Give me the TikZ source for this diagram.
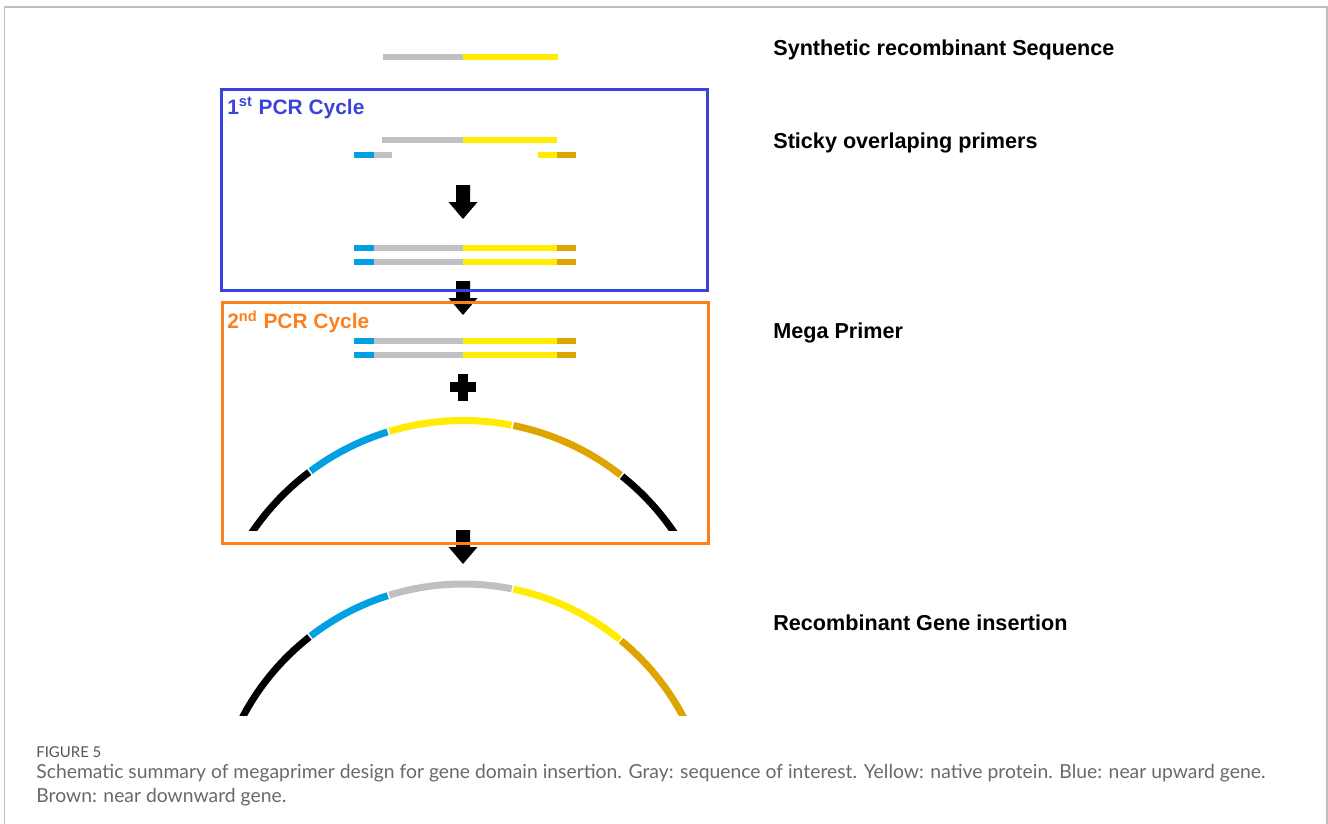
\documentclass[tikz,border=0pt]{standalone}
\usepackage{fontspec}
\setmainfont{Liberation Sans}
\newfontfamily\capfont{Lato}
\usetikzlibrary{arrows.meta}

\definecolor{seqgray}{RGB}{190,192,196}
\definecolor{seqyellow}{RGB}{255,236,0}
\definecolor{seqblue}{RGB}{0,160,227}
\definecolor{seqbrown}{RGB}{222,164,0}
\definecolor{cycleblue}{RGB}{58,68,220}
\definecolor{cycleorange}{RGB}{252,128,30}
\definecolor{captext}{RGB}{105,105,105}

% one full mega primer strand at height #1
\newcommand{\megabar}[1]{%
  \draw[seq, seqblue]   (354,#1) -- (374,#1);
  \draw[seq, seqgray]   (374,#1) -- (463,#1);
  \draw[seq, seqyellow] (463,#1) -- (557,#1);
  \draw[seq, seqbrown]  (557,#1) -- (576,#1);
}

\tikzset{
  blockdown/.pic={\fill (-7,17) -- (7,17) -- (7,0) -- (14.5,0) -- (0,-17) -- (-14.5,0) -- (-7,0) -- cycle;},
  plussign/.pic={\fill (-13,-5) rectangle (13,5); \fill (-5,-13.5) rectangle (5,13.5);}
}

\begin{document}
\begin{tikzpicture}[x=0.02cm, y=0.02cm,
  seq/.style={line width=0.12cm},
  dnaarc/.style={line width=0.14cm},
  cyclebox/.style={line width=0.06cm},
  stagelabel/.style={anchor=west, inner sep=0pt, font=\fontsize{12.3}{14}\selectfont\bfseries},
  cyclelabel/.style={anchor=west, inner sep=0pt, font=\fontsize{11.9}{14}\selectfont\bfseries},
  caption/.style={anchor=base west, inner sep=0pt, text=captext, font=\capfont\fontsize{11}{13}\selectfont}]
  \useasboundingbox (0,0) rectangle (1328,823);

  % page frame
  \draw[gray!50, line width=0.03cm] (4.5,-5) -- (4.5,816) -- (1327,816) -- (1327,-5);

  % step arrows, under the cycle frames
  \pic at (463,621) {blockdown};
  \pic at (463,525) {blockdown};
  \pic at (463,276) {blockdown};

  % synthetic sequence
  \draw[seq, seqgray]   (383,766) -- (463,766);
  \draw[seq, seqyellow] (463,766) -- (558,766);

  % first PCR cycle
  \draw[cyclebox, cycleblue] (221,533) rectangle (707,733);
  \node[cyclelabel, text=cycleblue] (pcr1) at (227,715) {1\textsuperscript{st} PCR Cycle};
  \draw[seq, seqgray]   (382,683) -- (463,683);
  \draw[seq, seqyellow] (463,683) -- (557,683);
  \draw[seq, seqblue]   (354,668) -- (374,668);
  \draw[seq, seqgray]   (374,668) -- (392,668);
  \draw[seq, seqyellow] (538,668) -- (557,668);
  \draw[seq, seqbrown]  (557,668) -- (576,668);
  \megabar{575.5}
  \megabar{561.5}

  % second PCR cycle
  \draw[cyclebox, cycleorange] (222,280) rectangle (708,521);
  \node[cyclelabel, text=cycleorange] (pcr2) at (227,501) {2\textsuperscript{nd} PCR Cycle};
  \megabar{482}
  \megabar{468}
  \pic at (463,436) {plussign};
  \coordinate (c1) at (463,147.5);
  \begin{scope}
    \clip (200,293) rectangle (730,460);
    \foreach \a/\b/\col in {147/127.1/black, 126.7/107.2/seqblue, 106.8/79/seqyellow,
                            78.6/51.8/seqbrown, 51.4/33/black}
      \draw[dnaarc, \col] (c1) ++(\a:255) arc[start angle=\a, end angle=\b, radius=255];
  \end{scope}

  % recombinant gene
  \coordinate (c2) at (463,-10);
  \begin{scope}
    \clip (200,108) rectangle (730,260);
    \foreach \a/\b/\col in {153/128.1/black, 127.7/107.6/seqblue, 107.2/78.7/seqgray,
                            78.3/51/seqyellow, 50.6/27/seqbrown}
      \draw[dnaarc, \col] (c2) ++(\a:249) arc[start angle=\a, end angle=\b, radius=249];
  \end{scope}

  % stage names
  \node[stagelabel] (synth) at (773,773) {Synthetic recombinant Sequence};
  \node[stagelabel] (sticky) at (773,680) {Sticky overlaping primers};
  \node[stagelabel] (mega) at (773,490) {Mega Primer};
  \node[stagelabel] (insert) at (773,200) {Recombinant Gene insertion};

  % caption
  \node[caption, text=captext!80!black, font=\capfont\fontsize{8.5}{10}\selectfont] (figno) at (36,66) {FIGURE 5};
  \node[caption] (cap1) at (36,45) {Schematic summary of megaprimer design for gene domain insertion. Gray: sequence of interest. Yellow: native protein. Blue: near upward gene.};
  \node[caption] (cap2) at (36,21) {Brown: near downward gene.};
\end{tikzpicture}
\end{document}
